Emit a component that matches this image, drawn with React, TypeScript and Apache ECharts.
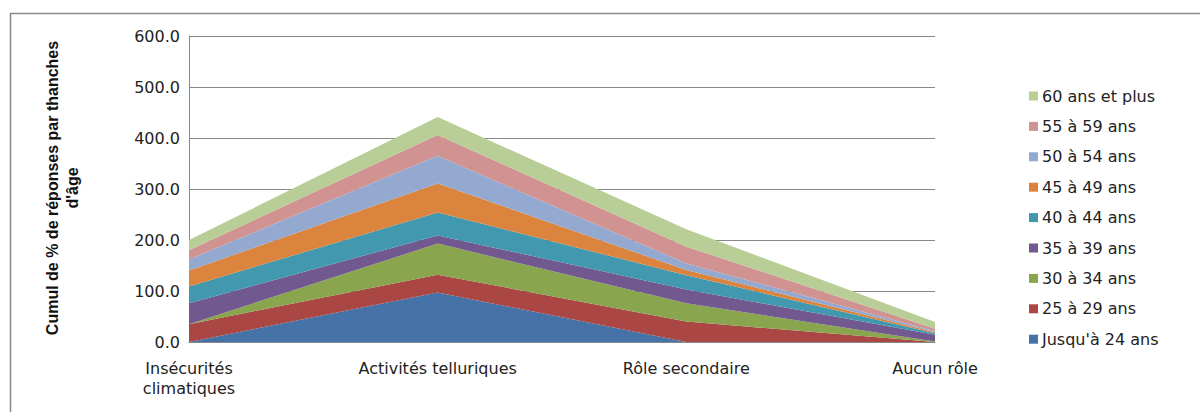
import React, { useEffect, useRef } from "react";
import * as echarts from "echarts";

const categories = ["Insécurités\nclimatiques", "Activités telluriques", "Rôle secondaire", "Aucun rôle"];
const seriesNames = [
  "Jusqu'à 24 ans",
  "25 à 29 ans",
  "30 à 34 ans",
  "35 à 39 ans",
  "40 à 44 ans",
  "45 à 49 ans",
  "50 à 54 ans",
  "55 à 59 ans",
  "60 ans et plus",
];
const s24 = [0, 97, 0, 0];
const s29 = [35, 35, 40, 0];
const s34 = [0, 61, 36, 1];
const s39 = [41, 16, 27, 13];
const s44 = [33, 45, 28, 3];
const s49 = [31, 57, 10, 2];
const s54 = [22, 54, 13, 2];
const s59 = [18, 41, 33, 5];
const s60 = [20, 35, 34, 13];
const seriesValues = [s24, s29, s34, s39, s44, s49, s54, s59, s60];
const colors = ["#4572A7", "#AA4643", "#89A54E", "#71588F", "#4198AF", "#DB843D", "#93A9CF", "#D19392", "#B9CD96"];

export default function App() {
  const ref = useRef<HTMLDivElement>(null);
  useEffect(() => {
    if (!ref.current) return;
    const chart = echarts.init(ref.current, null, { renderer: "svg" });
    const font = "'DejaVu Sans', sans-serif";
    chart.setOption({
      animation: false,
      color: colors,
      grid: { left: 189, right: 265, top: 36, bottom: 70, containLabel: false },
      legend: {
        orient: "vertical",
        left: 1024,
        top: 83,
        itemWidth: 9,
        itemHeight: 9,
        itemGap: 14.4,
        icon: "rect",
        data: seriesNames.slice().reverse(),
        textStyle: { fontFamily: font, fontSize: 16, color: "#222", padding: [0, 0, 0, -1] },
      },
      xAxis: {
        type: "category",
        boundaryGap: false,
        data: categories,
        axisLine: { lineStyle: { color: "#888" } },
        axisTick: { show: false },
        axisLabel: { fontFamily: font, fontSize: 16, color: "#222", margin: 16, lineHeight: 20, interval: 0 },
        splitLine: { show: false },
      },
      yAxis: {
        type: "value",
        min: 0,
        max: 600,
        interval: 100,
        axisLine: { show: true, lineStyle: { color: "#888" } },
        axisTick: { show: false },
        axisLabel: { fontFamily: font, fontSize: 16, color: "#222", margin: 9, formatter: (v: number) => v.toFixed(1) },
        splitLine: { lineStyle: { color: "#888" } },
      },
      graphic: [
        {
          type: "rect",
          shape: { x: 10.5, y: 13.5, width: 1200, height: 410 },
          style: { fill: "none", stroke: "#888", lineWidth: 1.5 },
          silent: true,
        },
        {
          type: "text",
          x: 62,
          y: 188,
          rotation: Math.PI / 2,
          style: {
            text: "Cumul de % de réponses par thanches\nd'âge",
            fontFamily: "'Liberation Sans', Arial, sans-serif",
            fontWeight: "bold",
            fontSize: 16,
            lineHeight: 20,
            fill: "#111",
            align: "center",
            verticalAlign: "middle",
          },
        },
      ],
      series: seriesNames.map((name, i) => ({
        name,
        type: "line",
        stack: "total",
        data: seriesValues[i],
        symbol: "none",
        lineStyle: { width: 0 },
        areaStyle: { color: colors[i], opacity: 1 },
        itemStyle: { color: colors[i] },
      })),
    });
    return () => chart.dispose();
  }, []);
  return <div ref={ref} style={{ position: "fixed", left: 0, top: 0, width: 1200, height: 412, background: "#fff" }} />;
}
